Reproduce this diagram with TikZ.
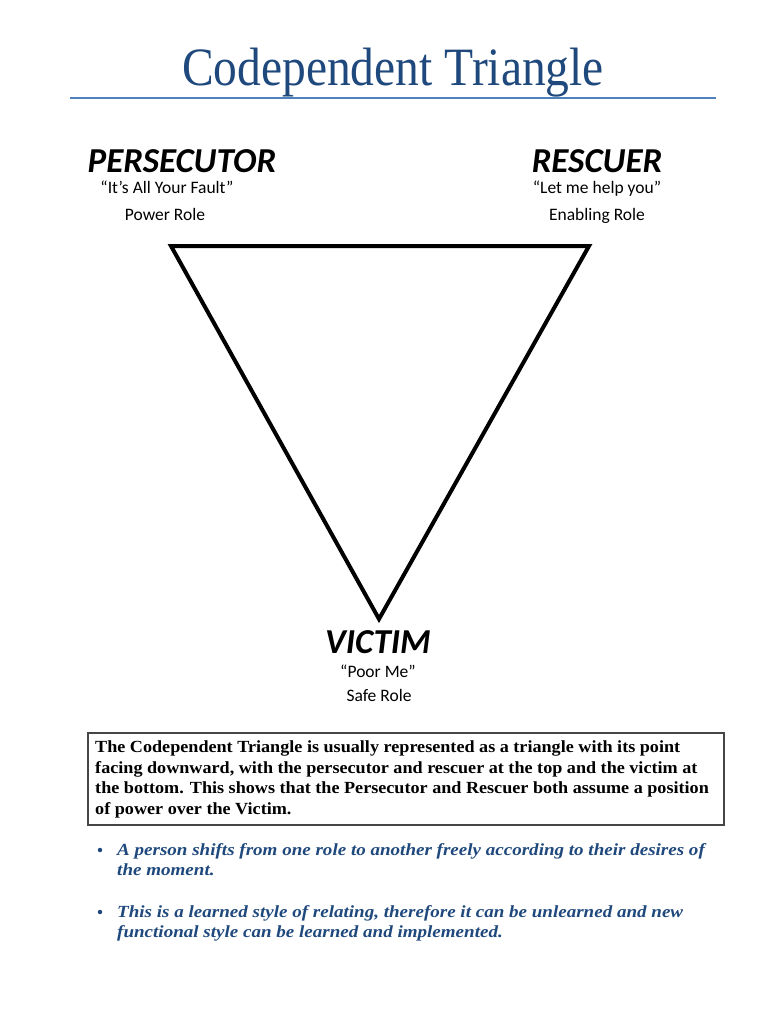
\documentclass[tikz,border=0pt]{standalone}
\usepackage{fontspec}
\setmainfont{Liberation Serif}
\newfontfamily\headfont{Carlito}
\definecolor{titleblue}{RGB}{31,73,125}
\definecolor{ruleblue}{RGB}{79,129,189}
\definecolor{boxgray}{RGB}{70,70,70}
\tikzset{
  roletitle/.style={font=\headfont\bfseries\itshape\fontsize{35}{40}\selectfont, anchor=base, inner sep=0pt},
  rolesub/.style={font=\headfont\fontsize{17.5}{20}\selectfont, anchor=base, inner sep=0pt},
  boxline/.style={font=\bfseries\fontsize{17}{20}\selectfont, anchor=base west, inner sep=0pt, xscale=1.067},
  bulline/.style={font=\bfseries\itshape\fontsize{17}{20}\selectfont, text=titleblue, anchor=base west, inner sep=0pt, xscale=1.12},
  bulletdot/.style={circle, fill=titleblue, inner sep=0pt, minimum size=4.5pt},
}
\begin{document}
\begin{tikzpicture}[x=1pt,y=-1pt]
\useasboundingbox (0,0) rectangle (768,1024);
\fill[white] (0,0) rectangle (768,1024);
% title
\node[font=\fontsize{54}{60}\selectfont, text=titleblue, anchor=base, inner sep=0pt, xscale=0.88] (title) at (393,86) {Codependent Triangle};
\coordinate (ruleL) at (70,98);
\coordinate (ruleR) at (716,98);
\draw[ruleblue, line width=1.2pt] (ruleL) -- (ruleR);
% triangle
\coordinate (P) at (171,246);
\coordinate (R) at (589,246);
\coordinate (V) at (379,619);
\draw[line width=4pt, line join=miter] (P) -- (R) -- (V) -- cycle;
% roles
\node[roletitle] (pers) at (182,173) {PERSECUTOR};
\node[rolesub] (persq) at (167,194) {“It’s All Your Fault”};
\node[rolesub] (persr) at (165,221) {Power Role};
\node[roletitle] (resc) at (597,173) {RESCUER};
\node[rolesub] (rescq) at (597,194) {“Let me help you”};
\node[rolesub] (rescr) at (597,221) {Enabling Role};
\node[roletitle] (vict) at (378,653) {VICTIM};
\node[rolesub] (victq) at (378,677) {“Poor Me”};
\node[rolesub] (victr) at (379,701) {Safe Role};
% box
\draw[boxgray, line width=1.3pt] (88,733) rectangle (724,825);
\node[boxline] (b1) at (95,752) {The Codependent Triangle is usually represented as a triangle with its point};
\node[boxline] (b2) at (95,773) {facing downward, with the persecutor and rescuer at the top and the victim at};
\node[boxline] (b3) at (95,793) {the bottom. This shows that the Persecutor and Rescuer both assume a position};
\node[boxline] (b4) at (95,814) {of power over the Victim.};
% bullets
\node[bulletdot] (d1) at (100,850) {};
\node[bulline] (l1) at (117,855) {A person shifts from one role to another freely according to their desires of};
\node[bulline] (l2) at (117,875) {the moment.};
\node[bulletdot] (d2) at (100,912) {};
\node[bulline] (l3) at (117,917) {This is a learned style of relating, therefore it can be unlearned and new};
\node[bulline] (l4) at (117,937) {functional style can be learned and implemented.};
\end{tikzpicture}
\end{document}
